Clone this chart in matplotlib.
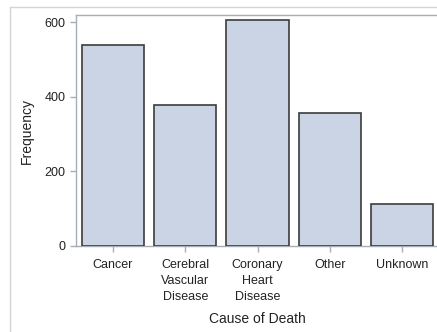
import matplotlib
matplotlib.use("Agg")
import matplotlib.pyplot as plt
from matplotlib.lines import Line2D

categories = ["Cancer", "Cerebral\nVascular\nDisease", "Coronary\nHeart\nDisease", "Other", "Unknown"]
frequency = [539, 378, 605, 357, 112]
yticks = [0, 200, 400, 600]

plt.rcParams['font.family'] = ['Liberation Sans', 'DejaVu Sans']

fig = plt.figure(figsize=(4.37, 3.32), dpi=100)
W, H = 437, 332

# outer light frame
fig.add_artist(Line2D([10 / W, 10 / W], [0, 1 - 7 / H], transform=fig.transFigure, color='#d4d4d4', lw=1.0))
fig.add_artist(Line2D([10 / W, 1], [1 - 7 / H, 1 - 7 / H], transform=fig.transFigure, color='#d4d4d4', lw=1.0))

left, right, top, bottom = 76, 439, 15, 246
ax = fig.add_axes([left / W, 1 - bottom / H, (right - left) / W, (bottom - top) / H])

x = list(range(len(categories)))
ax.bar(x, frequency, width=0.86, color='#cad4e5', edgecolor='#3c3c3c', linewidth=1.2, zorder=3)

ax.set_xlim(-0.51, len(categories) - 1 + 0.51)
ax.set_ylim(0, 619)
ax.set_yticks(yticks)
ax.set_xticks(x)
ax.set_xticklabels(categories, fontsize=9, color='#222222', linespacing=1.45, va='top')
ax.set_yticklabels([str(v) for v in yticks], fontsize=9, color='#222222')

for s in ['left', 'top', 'bottom', 'right']:
    ax.spines[s].set_color('#a6adb6')
    ax.spines[s].set_linewidth(1.0)
ax.spines['right'].set_visible(False)
ax.tick_params(axis='both', colors='#a6adb6', labelcolor='#222222', length=4.5, width=1.0)
ax.tick_params(axis='x', pad=5)
ax.tick_params(axis='y', pad=3)

ax.set_ylabel("Frequency", fontsize=10, color='#222222', labelpad=8)
ax.set_xlabel("Cause of Death", fontsize=10, color='#222222', labelpad=6)

fig.savefig("out.png", dpi=100)
